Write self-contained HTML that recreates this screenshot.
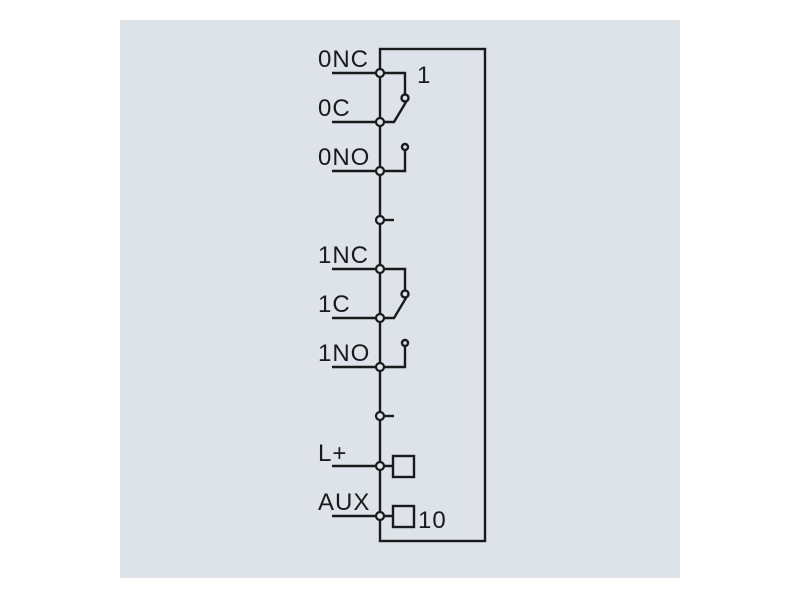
<!DOCTYPE html>
<html><head><style>
body{margin:0;background:#fff;width:800px;height:600px;overflow:hidden}
svg text{font-family:"Liberation Sans",sans-serif;font-size:24px;fill:#1a1a1a;letter-spacing:1px}
</style></head><body>
<svg width="800" height="600" viewBox="0 0 800 600">
<rect x="120" y="20" width="560" height="558" fill="#dde3e9"/>
<g stroke="#1a1a1a" stroke-width="2.4" fill="none">
<rect x="380" y="49" width="105" height="492"/>
<path d="M332 73H380M332 122H380M332 171H380M332 269H380M332 318H380M332 367H380M332 466H380M332 516H380"/>
<path d="M380 73H405V94M380 122H394L406 102M380 171H405V151"/>
<circle cx="405" cy="98" r="3.5"/><circle cx="405" cy="147" r="3"/>
<path d="M380 220H394"/>
<path d="M380 269H405V290M380 318H394L406 298M380 367H405V347"/>
<circle cx="405" cy="294" r="3.5"/><circle cx="405" cy="343" r="3"/>
<path d="M380 416H394"/>
<path d="M380 466H393M380 516H393"/>
<rect x="393" y="456" width="21" height="21"/>
<rect x="393" y="506" width="21" height="21"/>
</g>
<g stroke="#1a1a1a" stroke-width="2.2" fill="#dde3e9">
<circle cx="380" cy="73" r="4"/><circle cx="380" cy="122" r="4"/><circle cx="380" cy="171" r="4"/><circle cx="380" cy="220" r="4"/>
<circle cx="380" cy="269" r="4"/><circle cx="380" cy="318" r="4"/><circle cx="380" cy="367" r="4"/><circle cx="380" cy="416" r="4"/>
<circle cx="380" cy="466" r="4"/><circle cx="380" cy="516" r="4"/>
</g>
<text x="318" y="67">0NC</text>
<text x="318" y="116">0C</text>
<text x="318" y="165">0NO</text>
<text x="318" y="263">1NC</text>
<text x="318" y="312">1C</text>
<text x="318" y="361">1NO</text>
<text x="318" y="461">L+</text>
<text x="318" y="510">AUX</text>
<text x="417" y="83">1</text>
<text x="418" y="528">10</text>
</svg>
</body></html>
